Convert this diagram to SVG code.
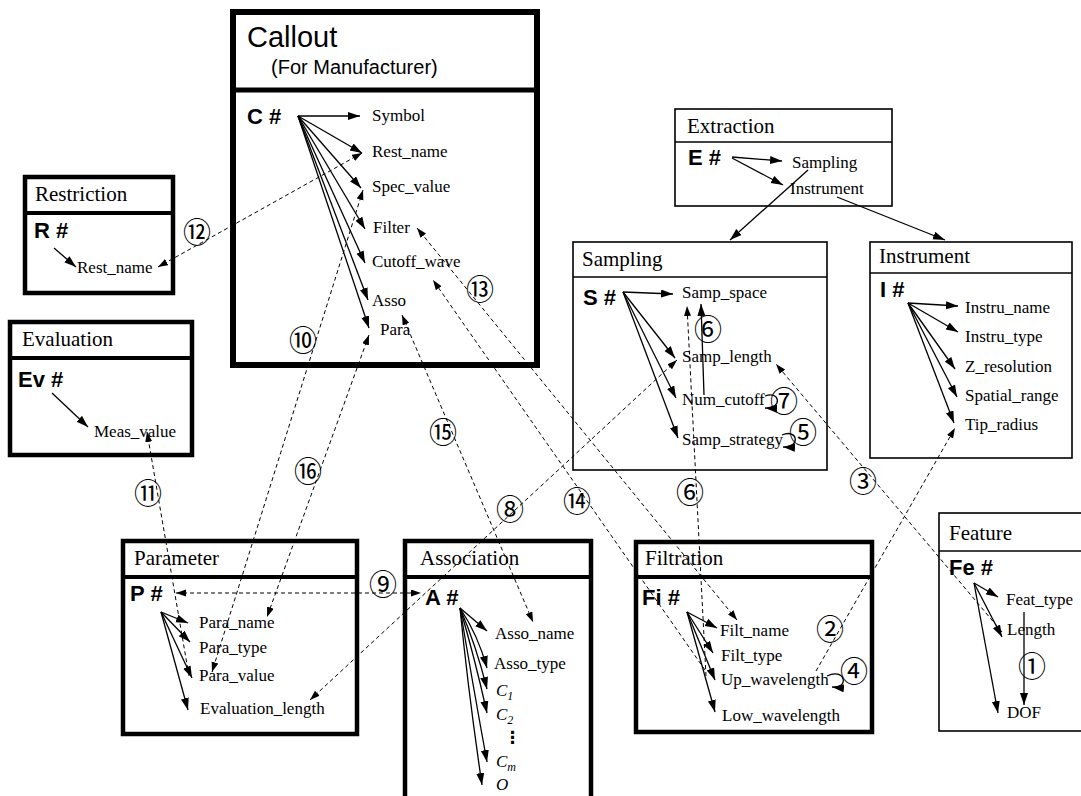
<svg xmlns="http://www.w3.org/2000/svg" width="1081" height="796" viewBox="0 0 1081 796">
<style>
.bx{fill:#fff;stroke:#000}
.thick{stroke-width:5}
.thin{stroke-width:1.6}
.t{font-family:"Liberation Serif",serif;font-size:21px;fill:#000}
.id{font-family:"Liberation Sans",sans-serif;font-size:22px;font-weight:bold;fill:#000}
.a{font-family:"Liberation Serif",serif;font-size:17px;fill:#000}
.ai{font-family:"Liberation Serif",serif;font-size:17px;font-style:italic;fill:#000}
.s{stroke:#000;stroke-width:1.3;fill:none;marker-end:url(#ah)}
.d{stroke:#000;stroke-width:1;fill:none;stroke-dasharray:4 3;marker-end:url(#dh)}
.dd{stroke:#000;stroke-width:1;fill:none;stroke-dasharray:4 3;marker-end:url(#dh);marker-start:url(#dh)}
.n{font-family:"Noto Sans CJK JP",sans-serif;font-size:28px;fill:#000;text-anchor:middle}
</style>
<defs>
<marker id="ah" markerUnits="userSpaceOnUse" markerWidth="13" markerHeight="9" refX="12" refY="4" orient="auto-start-reverse"><path d="M0,0 L12,4 L0,8 z" fill="#000"/></marker>
<marker id="dh" markerUnits="userSpaceOnUse" markerWidth="11" markerHeight="8" refX="10" refY="3.5" orient="auto-start-reverse"><path d="M0,0 L10,3.5 L0,7 z" fill="#000"/></marker>
</defs>
<rect width="1081" height="796" fill="#fff"/>

<g id="callout">
<rect class="bx" x="233" y="12" width="304" height="353" stroke-width="6"/>
<line x1="233" y1="90" x2="537" y2="90" stroke="#000" stroke-width="5"/>
<text x="247" y="47" font-family="Liberation Sans,sans-serif" font-size="29">Callout</text>
<text x="271" y="74" font-family="Liberation Sans,sans-serif" font-size="20">(For Manufacturer)</text>
<text class="id" x="247" y="124" font-size="23">C #</text>
<text class="a" x="372" y="121">Symbol</text>
<text class="a" x="372" y="157">Rest_name</text>
<text class="a" x="372" y="192">Spec_value</text>
<text class="a" x="373" y="233">Filter</text>
<text class="a" x="372" y="267">Cutoff_wave</text>
<text class="a" x="372" y="306">Asso</text>
<text class="a" x="380" y="335">Para</text>
<path class="s" d="M298,116 L360,116"/>
<path class="s" d="M298,116 L362,153"/>
<path class="s" d="M298,116 L361,188"/>
<path class="s" d="M298,116 L365,229"/>
<path class="s" d="M298,116 L365,263"/>
<path class="s" d="M298,116 L368,300"/>
<path class="s" d="M298,116 L369,328"/>
</g>

<g id="restriction">
<rect class="bx" x="25" y="177" width="148" height="116" stroke-width="4.5"/>
<line x1="25" y1="213" x2="173" y2="213" stroke="#000" stroke-width="4"/>
<text class="t" x="35" y="201">Restriction</text>
<text class="id" x="34" y="238">R #</text>
<text class="a" x="77" y="273">Rest_name</text>
<path class="s" d="M54,248 L76,267"/>
</g>

<g id="evaluation">
<rect class="bx" x="10" y="322" width="182" height="133" stroke-width="4.5"/>
<line x1="10" y1="358" x2="192" y2="358" stroke="#000" stroke-width="4"/>
<text class="t" x="22" y="346">Evaluation</text>
<text class="id" x="18" y="387">Ev #</text>
<text class="a" x="94" y="437">Meas_value</text>
<path class="s" d="M52,393 L88,427"/>
</g>

<g id="extraction">
<rect class="bx thin" x="675" y="109" width="217" height="97"/>
<line x1="675" y1="142" x2="892" y2="142" stroke="#000" stroke-width="1.6"/>
<text class="t" x="687" y="133">Extraction</text>
<text class="id" x="688" y="165">E #</text>
<text class="a" x="792" y="168">Sampling</text>
<text class="a" x="790" y="194">Instrument</text>
<path class="s" stroke-width="1.8" d="M732,157 L782,161"/>
<path class="s" stroke-width="1.8" d="M732,158 L783,185"/>
</g>

<g id="sampling">
<rect class="bx thin" x="573" y="242" width="254" height="228"/>
<line x1="573" y1="277" x2="827" y2="277" stroke="#000" stroke-width="1.6"/>
<text class="t" x="582" y="266">Sampling</text>
<text class="id" x="583" y="305">S #</text>
<text class="a" x="682" y="298">Samp_space</text>
<text class="a" x="682" y="362">Samp_length</text>
<text class="a" x="682" y="405">Num_cutoff</text>
<text class="a" x="682" y="445">Samp_strategy</text>
<path class="s" d="M623,292 L673,294"/>
<path class="s" d="M623,292 L675,358"/>
<path class="s" d="M623,292 L676,398"/>
<path class="s" d="M623,292 L678,438"/>
</g>

<g id="instrument">
<rect class="bx thin" x="870" y="242" width="202" height="216"/>
<line x1="870" y1="273" x2="1072" y2="273" stroke="#000" stroke-width="1.6"/>
<text class="t" x="879" y="263">Instrument</text>
<text class="id" x="880" y="297">I #</text>
<text class="a" x="965" y="313">Instru_name</text>
<text class="a" x="965" y="342">Instru_type</text>
<text class="a" x="965" y="372">Z_resolution</text>
<text class="a" x="965" y="401">Spatial_range</text>
<text class="a" x="965" y="430">Tip_radius</text>
<path class="s" stroke-width="1.6" d="M908,303 L958,306"/>
<path class="s" stroke-width="1.6" d="M908,303 L958,332"/>
<path class="s" stroke-width="1.6" d="M908,303 L955,369"/>
<path class="s" stroke-width="1.6" d="M908,303 L957,397"/>
<path class="s" stroke-width="1.6" d="M908,303 L954,423"/>
</g>

<g id="feature">
<rect class="bx thin" x="939" y="513" width="150" height="218"/>
<line x1="939" y1="551" x2="1081" y2="551" stroke="#000" stroke-width="1.6"/>
<text class="t" x="949" y="540">Feature</text>
<text class="id" x="949" y="575">Fe #</text>
<text class="a" x="1006" y="605">Feat_type</text>
<text class="a" x="1007" y="635">Length</text>
<text class="a" x="1007" y="718">DOF</text>
<path class="s" stroke-width="1.8" d="M974,583 L998,597"/>
<path class="s" stroke-width="1.8" d="M974,583 L1002,637"/>
<path class="s" stroke-width="1.8" d="M974,583 L998,713"/>
</g>

<g id="parameter">
<rect class="bx" x="123" y="541" width="234" height="193" stroke-width="4.5"/>
<line x1="123" y1="577" x2="357" y2="577" stroke="#000" stroke-width="4"/>
<text class="t" x="134" y="565">Parameter</text>
<text class="id" x="130" y="601">P #</text>
<text class="a" x="199" y="628">Para_name</text>
<text class="a" x="199" y="653">Para_type</text>
<text class="a" x="199" y="681">Para_value</text>
<text class="a" x="200" y="714">Evaluation_length</text>
<path class="s" d="M161,612 L188,623"/>
<path class="s" d="M161,612 L190,642"/>
<path class="s" d="M161,612 L192,678"/>
<path class="s" d="M161,612 L188,710"/>
</g>

<g id="association">
<path d="M405,800 L405,541 L591,541 L591,800" fill="#fff" stroke="#000" stroke-width="4.5"/>
<line x1="403" y1="577" x2="593" y2="577" stroke="#000" stroke-width="4"/>
<text class="t" x="420" y="565">Association</text>
<text class="id" x="425" y="605">A #</text>
<text class="a" x="495" y="639">Asso_name</text>
<text class="a" x="494" y="669">Asso_type</text>
<text class="ai" x="496" y="696">C<tspan font-size="12" dy="4">1</tspan></text>
<text class="ai" x="496" y="720">C<tspan font-size="12" dy="4">2</tspan></text>
<text x="504" y="743" font-family="DejaVu Sans,sans-serif" font-size="17" font-weight="bold">⋮</text>
<text class="ai" x="496" y="767">C<tspan font-size="12" dy="4">m</tspan></text>
<text class="ai" x="496" y="790">O</text>
<path class="s" d="M460,608 L487,631"/>
<path class="s" d="M460,608 Q478,635 487,668"/>
<path class="s" d="M460,608 Q476,645 487,689"/>
<path class="s" d="M460,608 Q474,655 487,713"/>
<path class="s" d="M460,608 Q472,680 487,762"/>
<path class="s" d="M460,608 Q468,690 482,785"/>
</g>

<g id="filtration">
<rect class="bx" x="636" y="542" width="236" height="190" stroke-width="4.5"/>
<line x1="636" y1="577" x2="872" y2="577" stroke="#000" stroke-width="4"/>
<text class="t" x="645" y="565">Filtration</text>
<text class="id" x="642" y="605">Fi #</text>
<text class="a" x="720" y="636">Filt_name</text>
<text class="a" x="721" y="661">Filt_type</text>
<text class="a" x="721" y="685">Up_wavelength</text>
<text class="a" x="722" y="721">Low_wavelength</text>
<path class="s" stroke-width="1.6" d="M687,612 L717,628"/>
<path class="s" stroke-width="1.6" d="M687,612 L713,653"/>
<path class="s" stroke-width="1.6" d="M687,612 L715,680"/>
<path class="s" stroke-width="1.6" d="M687,612 L715,712"/>
</g>

<g id="connectors">
<path class="s" stroke-width="1.8" d="M808,170 L730,240"/>
<path class="s" stroke-width="1.8" d="M837,197 L945,240"/>
<path class="s" stroke="#444" stroke-width="1.2" d="M1024,612 L1024,705"/>
<path class="d" d="M1002,632 L776,364"/>
<path class="d" d="M816,671 L955,428"/>
<path class="s" stroke-width="1.2" d="M704,395 L701,304"/>
<path class="d" d="M706,676 L687,306"/>
<path class="dd" d="M677,360 L310,700"/>
<path class="dd" d="M176,593 L421,593"/>
<path class="dd" d="M363,190 L212,672"/>
<path class="d" d="M189,676 L147,432"/>
<path class="dd" d="M362,153 L158,267"/>
<path class="dd" d="M737,620 L417,228"/>
<path class="d" d="M705,670 L433,280"/>
<path class="dd" d="M402,315 L533,622"/>
<path class="dd" d="M369,335 L267,617"/>
<path class="s" stroke-width="1.1" d="M827,676 C845,667 850,689 832,687"/>
<path class="s" stroke-width="1.1" d="M782,435 C798,428 801,448 783,447"/>
<path class="s" stroke-width="1.1" d="M765,396 C780,390 783,409 765,408"/>
<text class="n" x="1032" y="677">①</text>
<text class="n" x="830" y="640">②</text>
<text class="n" x="863" y="492">③</text>
<text class="n" x="854" y="682">④</text>
<text class="n" x="803" y="443">⑤</text>
<text class="n" x="708" y="340">⑥</text>
<text class="n" x="690" y="503">⑥</text>
<text class="n" x="784" y="412">⑦</text>
<text class="n" x="510" y="520">⑧</text>
<text class="n" x="383" y="595">⑨</text>
<text class="n" x="303" y="351">⑩</text>
<text class="n" x="148" y="504">⑪</text>
<text class="n" x="197" y="243">⑫</text>
<text class="n" x="480" y="300">⑬</text>
<text class="n" x="577" y="512">⑭</text>
<text class="n" x="443" y="443">⑮</text>
<text class="n" x="308" y="482">⑯</text>
</g>
</svg>
